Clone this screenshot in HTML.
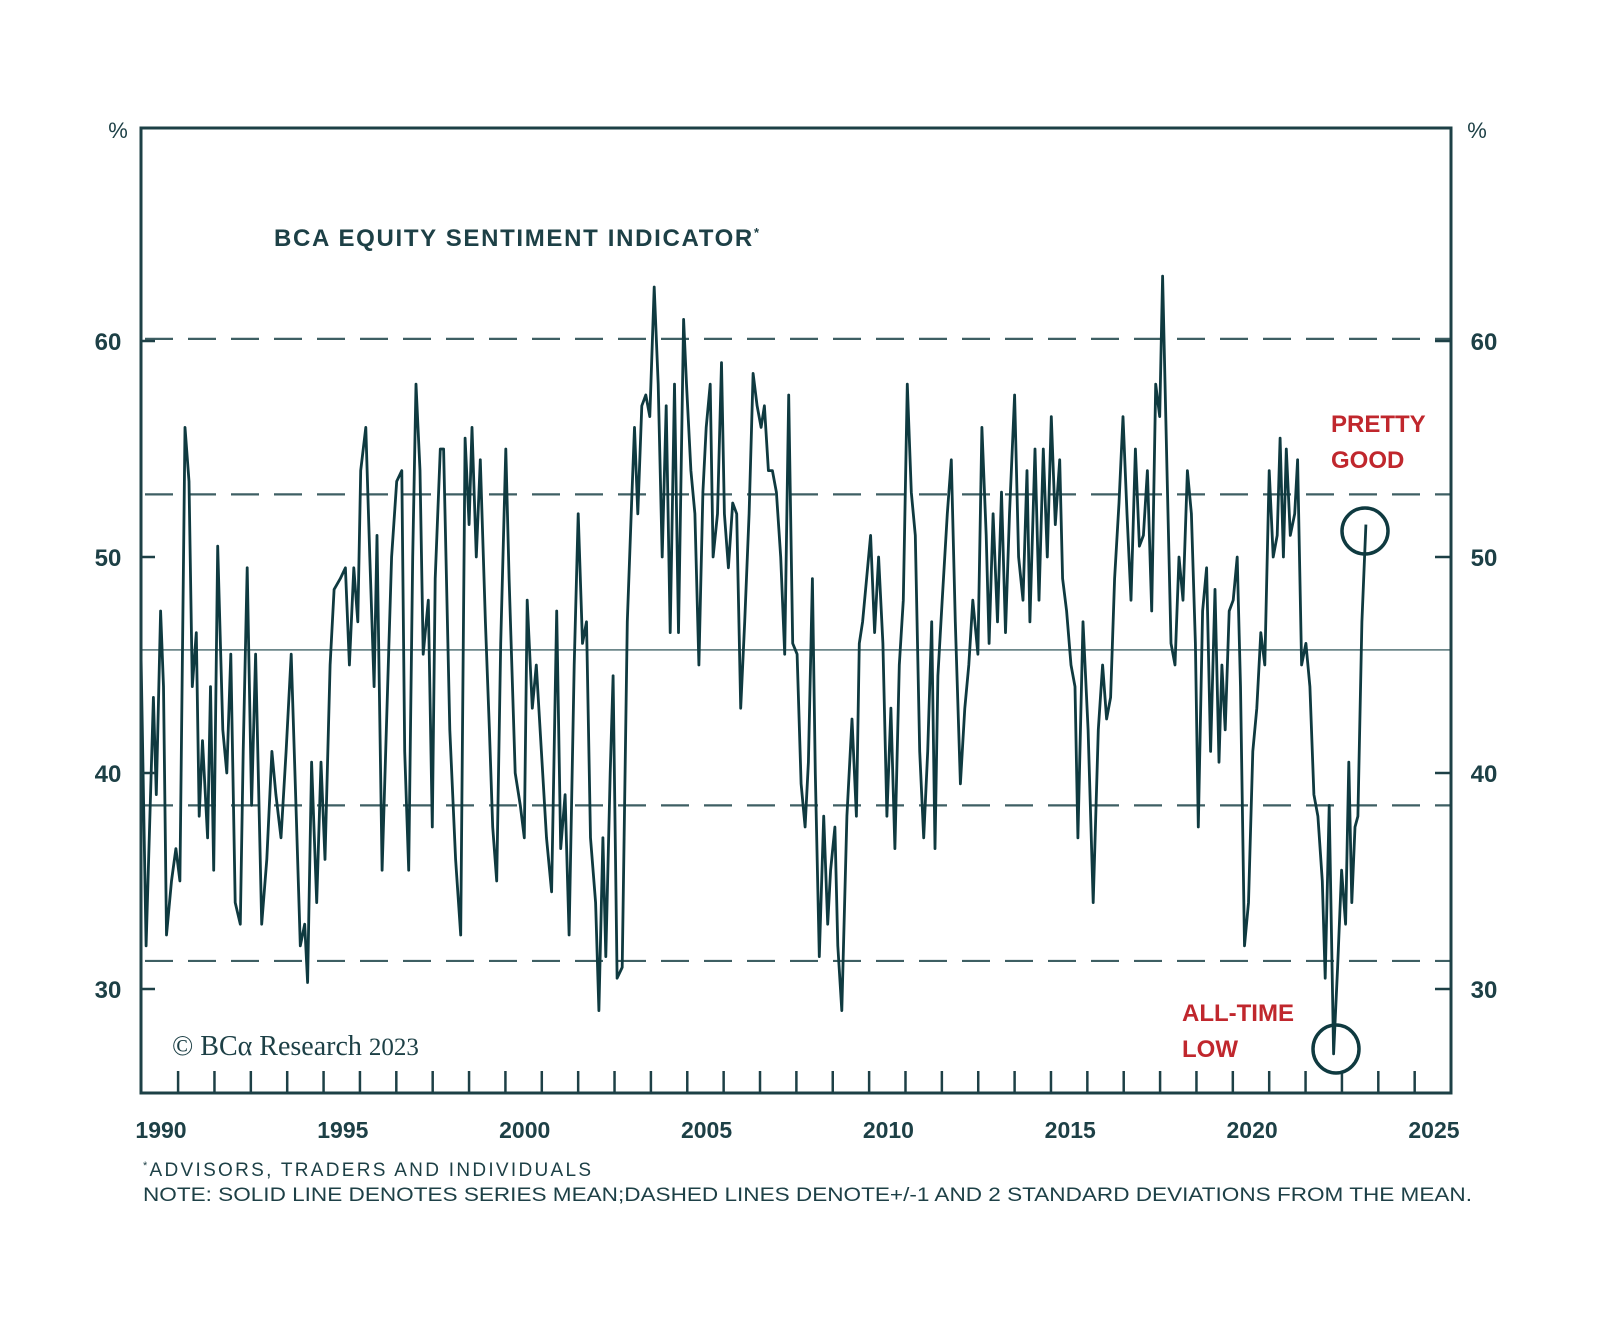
<!DOCTYPE html>
<html><head><meta charset="utf-8"><style>
html,body{margin:0;padding:0;background:#fff;}
svg{display:block;font-family:"Liberation Sans",sans-serif;}
</style></head><body>
<svg id="chart" width="1600" height="1319" viewBox="0 0 1600 1319">
<rect x="0" y="0" width="1600" height="1319" fill="#fff"/>
<g id="grid"></g>
<g id="series"></g>
<g id="axes"></g>
<text x="274" y="246" font-size="24" font-weight="bold" fill="#1d4046" textLength="485">BCA EQUITY SENTIMENT INDICATOR<tspan font-size="13" dy="-9">*</tspan></text>
<text x="118" y="138" font-size="22" text-anchor="middle" fill="#1d4046">%</text>
<text x="1477" y="138" font-size="22" text-anchor="middle" fill="#1d4046">%</text>
<text x="1331" y="432" font-size="24" font-weight="bold" fill="#c0272d">PRETTY</text>
<text x="1331" y="468" font-size="24" font-weight="bold" fill="#c0272d">GOOD</text>
<text x="1182" y="1021" font-size="24" font-weight="bold" fill="#c0272d">ALL-TIME</text>
<text x="1182" y="1057" font-size="24" font-weight="bold" fill="#c0272d">LOW</text>
<ellipse cx="1365" cy="531" rx="23" ry="23" fill="none" stroke="#0f3a40" stroke-width="3.5"/>
<ellipse cx="1336" cy="1049" rx="23" ry="24" fill="none" stroke="#0f3a40" stroke-width="3.5"/>
<text x="172" y="1055" font-size="28" fill="#1d4046" font-family="Liberation Serif, serif">© BCα Research <tspan font-size="25">2023</tspan></text>
<text x="143" y="1176" font-size="19" fill="#1d4046" textLength="448"><tspan font-size="11" dy="-7">*</tspan><tspan dy="7">ADVISORS, TRADERS AND INDIVIDUALS</tspan></text>
<text x="143" y="1201" font-size="19" fill="#1d4046" textLength="1329" lengthAdjust="spacingAndGlyphs">NOTE: SOLID LINE DENOTES SERIES MEAN;DASHED LINES DENOTE+/-1 AND 2 STANDARD DEVIATIONS FROM THE MEAN.</text>
</svg>
<script>
const dates = [1989.45,1989.59,1989.79,1989.87,1989.99,1990.07,1990.15,1990.29,1990.41,1990.52,1990.66,1990.77,1990.86,1990.97,1991.05,1991.14,1991.28,1991.36,1991.45,1991.56,1991.70,1991.81,1991.92,1992.04,1992.18,1992.26,1992.37,1992.49,1992.60,1992.77,1992.91,1993.05,1993.16,1993.30,1993.44,1993.58,1993.72,1993.83,1993.95,1994.03,1994.14,1994.28,1994.40,1994.51,1994.65,1994.76,1994.93,1995.07,1995.18,1995.30,1995.41,1995.49,1995.63,1995.74,1995.86,1995.94,1996.08,1996.25,1996.34,1996.48,1996.62,1996.70,1996.81,1996.92,1997.01,1997.12,1997.21,1997.35,1997.46,1997.54,1997.68,1997.77,1997.94,1998.10,1998.24,1998.36,1998.47,1998.55,1998.67,1998.78,1998.92,1999.03,1999.12,1999.23,1999.34,1999.48,1999.57,1999.74,1999.88,1999.99,2000.07,2000.21,2000.32,2000.46,2000.60,2000.74,2000.88,2000.99,2001.11,2001.22,2001.36,2001.47,2001.59,2001.70,2001.81,2001.95,2002.04,2002.15,2002.23,2002.35,2002.43,2002.54,2002.68,2002.82,2002.94,2003.02,2003.11,2003.22,2003.33,2003.44,2003.56,2003.67,2003.78,2003.89,2004.00,2004.12,2004.23,2004.37,2004.45,2004.57,2004.68,2004.79,2004.90,2004.99,2005.10,2005.18,2005.30,2005.41,2005.49,2005.60,2005.72,2005.83,2005.94,2006.05,2006.17,2006.28,2006.39,2006.50,2006.59,2006.70,2006.81,2006.92,2007.04,2007.15,2007.26,2007.37,2007.49,2007.60,2007.71,2007.80,2007.91,2007.99,2008.10,2008.22,2008.33,2008.41,2008.53,2008.61,2008.72,2008.86,2009.00,2009.12,2009.20,2009.29,2009.40,2009.51,2009.62,2009.73,2009.85,2009.96,2010.07,2010.18,2010.30,2010.41,2010.52,2010.63,2010.74,2010.86,2010.97,2011.08,2011.19,2011.28,2011.36,2011.48,2011.62,2011.73,2011.84,2011.98,2012.10,2012.21,2012.32,2012.46,2012.57,2012.69,2012.77,2012.88,2013.00,2013.11,2013.22,2013.33,2013.47,2013.58,2013.70,2013.81,2013.89,2014.03,2014.14,2014.26,2014.37,2014.48,2014.59,2014.71,2014.79,2014.90,2015.02,2015.13,2015.21,2015.35,2015.49,2015.63,2015.77,2015.89,2016.00,2016.11,2016.22,2016.34,2016.45,2016.56,2016.67,2016.79,2016.90,2017.01,2017.12,2017.24,2017.35,2017.46,2017.54,2017.66,2017.77,2017.88,2017.99,2018.10,2018.22,2018.33,2018.44,2018.52,2018.64,2018.75,2018.86,2018.98,2019.09,2019.17,2019.26,2019.37,2019.48,2019.59,2019.68,2019.79,2019.90,2020.02,2020.13,2020.24,2020.35,2020.47,2020.58,2020.69,2020.77,2020.86,2020.94,2021.05,2021.17,2021.25,2021.36,2021.48,2021.59,2021.70,2021.81,2021.93,2022.01,2022.12,2022.24,2022.35,2022.46,2022.57,2022.66,2022.74,2022.83,2022.91,2023.02,2023.13];
const values = [45.5,32,43.5,39,47.5,44,32.5,35,36.5,35,56,53.5,44,46.5,38,41.5,37,44,35.5,50.5,42,40,45.5,34,33,41,49.5,38.5,45.5,33,36,41,39,37,41,45.5,38,32,33,30.3,40.5,34,40.5,36,45,48.5,49,49.5,45,49.5,47,54,56,50,44,51,35.5,45,50,53.5,54,41,35.5,50,58,54,45.5,48,37.5,49,55,55,42,36,32.5,55.5,51.5,56,50,54.5,47,42,37.5,35,46,55,49,40,38.5,37,48,43,45,41,37,34.5,47.5,36.5,39,32.5,45,52,46,47,37,34,29,37,31.5,40,44.5,30.5,31,47,52.5,56,52,57,57.5,56.5,62.5,58,50,57,46.5,58,46.5,61,58,54,52,45,53,56,58,50,52,59,52,49.5,52.5,52,43,47,52,58.5,57,56,57,54,54,53,50,45.5,57.5,46,45.5,39.5,37.5,40.5,49,40,31.5,38,33,35.5,37.5,32,29,38,42.5,38,46,47,49,51,46.5,50,46,38,43,36.5,45,48,58,53,51,41,37,41,47,36.5,44.5,48,52,54.5,47,39.5,43,45,48,45.5,56,51,46,52,47,53,46.5,52,57.5,50,48,54,47,55,48,55,50,56.5,51.5,54.5,49,47.5,45,44,37,47,42,34,42,45,42.5,43.5,49,52.5,56.5,52,48,55,50.5,51,54,47.5,58,56.5,63,54,46,45,50,48,54,52,46,37.5,47.5,49.5,41,48.5,40.5,45,42,47.5,48,50,44,32,34,41,43,46.5,45,54,50,51,55.5,50,55,51,52,54.5,45,46,44,39,38,35,30.5,38.5,27,31,35.5,33,40.5,34,37.5,38,47,51.5];
const refValues = [60.1, 52.9, 38.5, 31.3];
const meanValue = 45.7;
const yTicks = [30, 40, 50, 60];
const yTickLabels = ["30", "40", "50", "60"];
const xTickYears = [1990,1991,1992,1993,1994,1995,1996,1997,1998,1999,2000,2001,2002,2003,2004,2005,2006,2007,2008,2009,2010,2011,2012,2013,2014,2015,2016,2017,2018,2019,2020,2021,2022,2023,2024];
const xLabels = ["1990","1995","2000","2005","2010","2015","2020","2025"];

const NS = "http://www.w3.org/2000/svg";
const L = 141, R = 1451, T = 128, B = 1093;
const xs = yr => 161 + (yr - 1990) * 36.37;
const ys = v => 341 + (60 - v) * 21.6;
function mk(tag, attrs, parent) {
  const e = document.createElementNS(NS, tag);
  for (const k in attrs) e.setAttribute(k, attrs[k]);
  parent.appendChild(e);
  return e;
}
const grid = document.getElementById('grid');
refValues.forEach((v, i) => {
  const ln = mk('line', {x1: L + 4, x2: R, y1: ys(v), y2: ys(v), stroke: '#3e5f63', 'stroke-width': 2.2, 'stroke-dasharray': '28 15'}, grid);
  
  
});
const mean = mk('line', {x1: L, x2: R, y1: ys(meanValue), y2: ys(meanValue), stroke: '#6d878a', 'stroke-width': 1.8}, grid);



const series = document.getElementById('series');
let d = '';
dates.forEach((t, i) => { d += (i ? 'L' : 'M') + xs(t).toFixed(1) + ',' + ys(values[i]).toFixed(1); });
const path = mk('path', {d: d, fill: 'none', stroke: '#0f3a40', 'stroke-width': 2.8, 'stroke-linejoin': 'round'}, series);



const axes = document.getElementById('axes');
const frame = mk('rect', {x: L, y: T, width: R - L, height: B - T, fill: 'none', stroke: '#1d4046', 'stroke-width': 3}, axes);


yTicks.forEach((v, i) => {
  const t1 = mk('line', {x1: L, x2: L + 14, y1: ys(v), y2: ys(v), stroke: '#1d4046', 'stroke-width': 2.5}, axes);
  
  
  const t2 = mk('line', {x1: R - 16, x2: R, y1: ys(v), y2: ys(v), stroke: '#1d4046', 'stroke-width': 2.5}, axes);
  
  
  const l1 = mk('text', {x: 108, y: ys(v) + 9, 'font-size': 24, 'font-weight': 'bold', fill: '#1d4046', 'text-anchor': 'middle'}, axes);
  l1.textContent = yTickLabels[i];
  
  
  const l2 = mk('text', {x: 1484, y: ys(v) + 9, 'font-size': 24, 'font-weight': 'bold', fill: '#1d4046', 'text-anchor': 'middle'}, axes);
  l2.textContent = yTickLabels[i];
  
  
});
xTickYears.forEach(yr => {
  const tk = mk('line', {x1: xs(yr + 0.47), x2: xs(yr + 0.47), y1: B, y2: B - 22, stroke: '#1d4046', 'stroke-width': 2.5}, axes);
  
  
});
xLabels.forEach(lb => {
  const tx = mk('text', {x: xs(+lb), y: 1138, 'font-size': 23, 'font-weight': 'bold', fill: '#1d4046', 'text-anchor': 'middle'}, axes);
  tx.textContent = lb;
  
  
});
</script>
</body></html>
